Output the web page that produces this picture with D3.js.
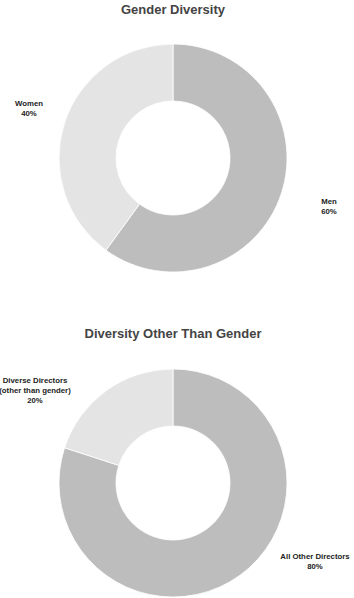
<!DOCTYPE html>
<html>
<head>
<meta charset="utf-8">
<script src="https://cdn.jsdelivr.net/npm/d3@7"></script>
<style>
  body { margin: 0; background: #fff; }
  svg { display: block; font-family: "Liberation Sans", Arial, sans-serif; }
</style>
</head>
<body>
<div id="chart"></div>
<script>
// data
const genderLabels = ["Men", "Women"];
const genderValues = [60, 40];
const otherLabels = [["All Other Directors"], ["Diverse Directors", "(other than gender)"]];
const otherValues = [80, 20];
const sliceColors = ["#bdbdbd", "#e4e4e4"];

const w = 354, h = 598;

const svg = d3.select("#chart").append("svg")
  .attr("width", w)
  .attr("height", h);

// one donut chart per panel
const panels = [
  { title: "Gender Diversity", titleY: 14, cy: 158,
    labels: genderLabels.map(d => [d]), values: genderValues,
    labelPos: [[329, 204], [29, 106]] },
  { title: "Diversity Other Than Gender", titleY: 338, cy: 483,
    labels: otherLabels, values: otherValues,
    labelPos: [[315, 559], [35, 383]] }
];

const outerR = 114, innerR = 57, cx = 173;

const pie = d3.pie().sort(null).value(d => d);
const arc = d3.arc().innerRadius(innerR).outerRadius(outerR);

panels.forEach(p => {
  svg.append("text")
    .attr("x", cx)
    .attr("y", p.titleY)
    .attr("text-anchor", "middle")
    .style("font-size", "13px")
    .style("font-weight", "bold")
    .attr("fill", "#444")
    .text(p.title);

  const g = svg.append("g")
    .attr("transform", `translate(${cx},${p.cy})`);

  g.selectAll("path")
    .data(pie(p.values))
    .enter()
    .append("path")
    .attr("d", arc)
    .attr("fill", (d, i) => sliceColors[i])
    .attr("stroke", "#fff")
    .attr("stroke-width", 0.8);

  // labels: name lines + percent
  p.values.forEach((v, i) => {
    const lines = p.labels[i].concat([v + "%"]);
    const t = svg.append("text")
      .attr("text-anchor", "middle")
      .style("font-size", "7.8px")
      .style("font-weight", "bold")
      .attr("fill", "#222");
    lines.forEach((s, j) => {
      t.append("tspan")
        .attr("x", p.labelPos[i][0])
        .attr("y", p.labelPos[i][1] + j * 10)
        .text(s);
    });
  });
});
</script>
</body>
</html>
